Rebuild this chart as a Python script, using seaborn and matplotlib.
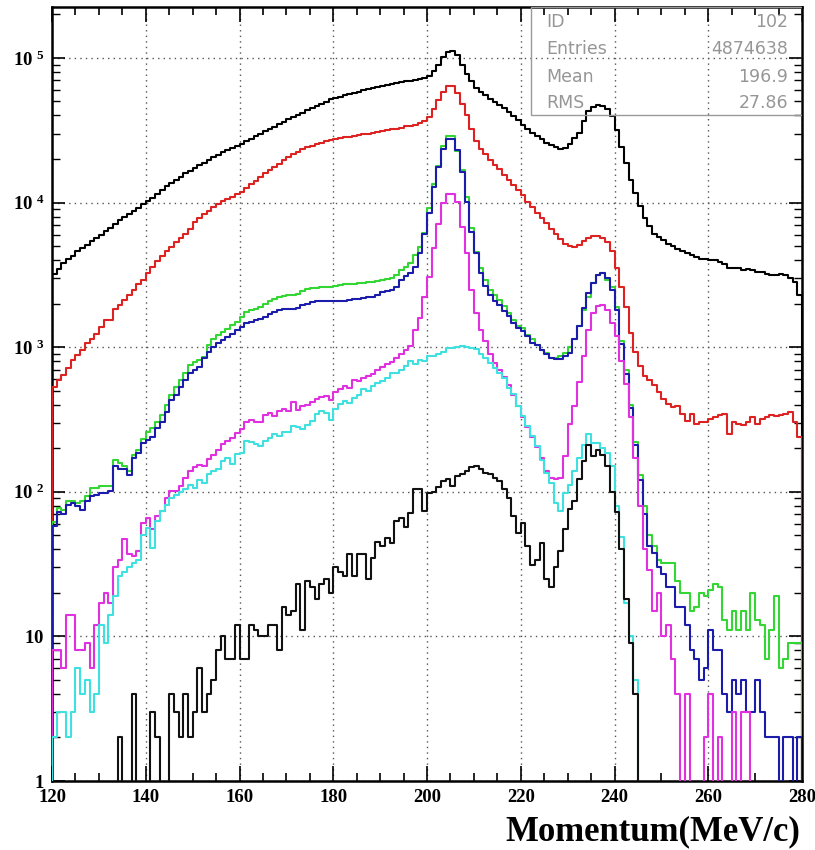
import numpy as np
import matplotlib
matplotlib.use("Agg")
import matplotlib.pyplot as plt
from matplotlib.patches import Rectangle
from matplotlib.ticker import FixedLocator, MultipleLocator, LogLocator, NullFormatter
import seaborn as sns

# ---------------- data (1 MeV/c bins from 120 to 280) ----------------
momentum_low = 120
momentum_high = 280
bin_width = 1

total_black = [
    3200, 3450, 3800, 4100, 4300, 4600, 4850, 5100, 5400, 5700,
    6000, 6350, 6700, 7100, 7600, 7900, 8300, 8800, 9200, 9700,
    10200, 10800, 11500, 12200, 13000, 13700, 14400, 15100, 15900, 16600,
    17400, 18100, 18900, 19700, 20500, 21400, 22200, 23000, 23800, 24600,
    25400, 26450, 27540, 28660, 29820, 31000, 32230, 33500, 34800, 36150,
    37530, 38950, 40400, 41900, 43420, 44990, 46600, 48250, 49930, 51640,
    53000, 54100, 55200, 56300, 57400, 58500, 59600, 60650, 61700, 62800,
    63800, 64900, 65900, 66900, 67900, 68900, 69800, 70800, 71800, 72800,
    75500, 81000, 90000, 101000, 110000, 112000, 104000, 90000, 78000, 69000,
    62000, 58000, 55000, 52000, 49500, 47500, 45000, 42000, 39500, 37000,
    34500, 32500, 30500, 29000, 27500, 26000, 25000, 24200, 23600, 24000,
    25400, 28000, 30500, 36500, 43000, 45700, 47000, 46600, 44000, 39800,
    31500, 24300, 18700, 14400, 11600, 9500, 7800, 6900, 6100, 5800,
    5500, 5150, 5000, 4800, 4650, 4500, 4350, 4200, 4100, 4100,
    4000, 4000, 3900, 3780, 3550, 3550, 3500, 3400, 3450, 3400,
    3300, 3300, 3200, 3150, 3130, 3200, 3130, 3030, 2800, 2300,
]

red_series = [
    532, 590, 640, 713, 813, 880, 955, 1060, 1145, 1240,
    1380, 1535, 1535, 1850, 1950, 2110, 2280, 2470, 2750, 2900,
    3250, 3600, 3950, 4250, 4600, 4950, 5300, 5650, 6050, 6600,
    7300, 7850, 8300, 8800, 9300, 9800, 10200, 10600, 11000, 11400,
    11800, 12600, 13400, 14200, 15000, 15900, 16800, 17700, 18600, 19600,
    20600, 21600, 22500, 23300, 24100, 24800, 25400, 26000, 26600, 27100,
    27600, 27900, 28200, 28500, 28900, 29200, 29600, 30000, 30500, 30800,
    31200, 31600, 32000, 32400, 33000, 33600, 34000, 34600, 35300, 36500,
    39000, 44000, 51000, 58000, 64000, 64000, 57000, 48000, 40000, 32000,
    26500, 23500, 21500, 19800, 18300, 17000, 15600, 14300, 13200, 12300,
    11200, 10100, 9300, 8500, 7800, 7200, 6600, 6100, 5600, 5200,
    5000, 4950, 5100, 5400, 5700, 5900, 5900, 5700, 5300, 4600,
    3500, 2600, 1900, 1250, 920, 740, 630, 590, 545, 490,
    440, 405, 385, 393, 347, 311, 347, 295, 302, 302,
    320, 330, 338, 347, 250, 302, 295, 288, 302, 329,
    295, 320, 329, 338, 335, 340, 347, 356, 302, 240,
]

green_series = [
    62, 77, 75, 86, 86, 84, 86, 93, 106, 106,
    109, 109, 109, 167, 158, 150, 140, 181, 196, 230,
    261, 275, 305, 340, 398, 467, 532, 590, 660, 752,
    790, 814, 857, 1030, 1144, 1210, 1274, 1345, 1420, 1496,
    1617, 1750, 1800, 1850, 1900, 2000, 2100, 2150, 2220, 2250,
    2280, 2310, 2340, 2430, 2520, 2560, 2580, 2600, 2600, 2620,
    2650, 2700, 2720, 2750, 2750, 2760, 2780, 2800, 2820, 2850,
    2900, 2950, 3000, 3150, 3400, 3600, 3810, 4340, 4960, 6120,
    9100, 13500, 18000, 24700, 29000, 29000, 22900, 16700, 10900, 6620,
    4570, 3500, 2930, 2500, 2300, 2130, 1915, 1720, 1550, 1400,
    1360, 1220, 1130, 1040, 960, 915, 845, 845, 870, 915,
    1000, 1130, 1400, 1820, 2240, 2770, 3160, 3240, 2900, 2600,
    1900, 1100, 700, 400, 220, 130, 80, 50, 42, 34,
    32, 32, 32, 24, 20, 20, 15, 16, 20, 19,
    21, 23, 22, 13, 11, 15, 11, 15, 11, 20,
    13, 12, 7, 11, 19, 6, 7, 9, 9, 9,
]

blue_series = [
    58, 73, 70, 81, 84, 80, 75, 86, 93, 95,
    98, 98, 101, 150, 143, 143, 130, 172, 186, 219,
    228, 240, 275, 305, 358, 431, 467, 532, 590, 660,
    700, 730, 835, 930, 1000, 1060, 1120, 1180, 1240, 1310,
    1380, 1460, 1500, 1530, 1570, 1610, 1700, 1750, 1800, 1830,
    1850, 1850, 1860, 1950, 2000, 2050, 2070, 2100, 2100, 2100,
    2100, 2100, 2100, 2120, 2140, 2160, 2180, 2220, 2220, 2300,
    2400, 2450, 2500, 2600, 2930, 3100, 3240, 3610, 4460, 6100,
    8400, 12800, 17600, 23500, 27600, 27600, 23000, 16300, 10100, 6280,
    4460, 3240, 2630, 2300, 2100, 1970, 1770, 1630, 1470, 1360,
    1290, 1190, 1070, 1040, 960, 890, 845, 822, 830, 870,
    915, 1130, 1400, 1860, 2370, 2770, 3160, 3240, 3000, 2500,
    1820, 1050, 650, 380, 210, 120, 70, 42, 38, 30,
    27, 22, 22, 16, 16, 12, 8, 7, 5, 6,
    11, 8, 8, 4, 3, 5, 4, 5, 3, 3,
    5, 3, 2, 2, 2, 0, 2, 2, 0, 2,
]

magenta_series = [
    8, 8, 6, 14, 14, 8, 8, 9, 6, 12,
    17, 20, 17, 30, 34, 47, 37, 36, 39, 61,
    66, 55, 68, 74, 91, 102, 102, 110, 125, 140,
    148, 152, 150, 168, 180, 195, 214, 223, 235, 254,
    272, 305, 315, 302, 305, 337, 351, 332, 364, 375,
    360, 417, 370, 390, 400, 418, 435, 450, 458, 430,
    488, 515, 535, 520, 595, 580, 610, 628, 655, 690,
    725, 765, 790, 840, 890, 950, 1020, 1320, 1600, 2240,
    3080, 4830, 7160, 9850, 11500, 11500, 10100, 6800, 4460, 2490,
    1720, 1320, 1100, 900, 780, 690, 620, 545, 470, 390,
    330, 282, 240, 205, 172, 140, 125, 122, 125, 176,
    292, 393, 570, 867, 1320, 1720, 1915, 1970, 1820, 1470,
    1190, 800, 560, 330, 170, 80, 40, 29, 15, 20,
    10, 12, 7, 4, 0, 4, 0, 0, 0, 2,
    4, 0, 2, 0, 0, 3, 0, 3, 3, 0,
    0, 0, 0, 0, 0, 0, 0, 0, 0, 0,
]

cyan_series = [
    2, 3, 3, 2, 3, 6, 4, 5, 3, 4,
    12, 9, 14, 19, 26, 28, 30, 32, 34, 50,
    56, 41, 63, 74, 81, 90, 95, 100, 104, 112,
    106, 121, 115, 132, 139, 143, 163, 171, 155, 182,
    185, 225, 220, 215, 207, 224, 236, 250, 243, 257,
    257, 285, 280, 270, 290, 308, 343, 362, 352, 316,
    371, 403, 424, 414, 446, 470, 510, 498, 538, 568,
    584, 614, 667, 667, 700, 740, 805, 765, 820, 800,
    866, 870, 890, 930, 990, 990, 1010, 1015, 1000, 980,
    965, 890, 844, 780, 720, 663, 615, 524, 471, 390,
    333, 284, 243, 207, 167, 135, 115, 84, 74, 98,
    112, 139, 172, 212, 249, 218, 218, 200, 186, 150,
    80, 49, 17, 10, 5, 0, 0, 0, 0, 0,
    0, 0, 0, 0, 0, 0, 0, 0, 0, 0,
    0, 0, 0, 0, 0, 0, 0, 0, 0, 0,
    0, 0, 0, 0, 0, 0, 0, 0, 0, 0,
]

signal_black = [
    0, 0, 0, 0, 0, 0, 0, 0, 0, 0,
    0, 0, 0, 0, 2, 0, 0, 4, 0, 0,
    0, 3, 2, 0, 0, 4, 3, 2, 4, 2,
    3, 6, 3, 4, 5, 8, 10, 7, 7, 12,
    7, 7, 12, 11, 10, 10, 12, 12, 8, 16,
    14, 15, 23, 11, 24, 22, 18, 23, 25, 20,
    30, 28, 26, 37, 26, 37, 37, 25, 35, 45,
    42, 48, 44, 63, 66, 57, 71, 105, 105, 74,
    98, 100, 108, 118, 122, 110, 128, 132, 139, 149,
    150, 143, 135, 132, 125, 118, 104, 91, 68, 52,
    61, 42, 31, 34, 44, 25, 22, 30, 39, 55,
    76, 86, 122, 163, 212, 176, 196, 181, 150, 100,
    73, 40, 18, 9, 4, 0, 0, 0, 0, 0,
    0, 0, 0, 0, 0, 0, 0, 0, 0, 0,
    0, 0, 0, 0, 0, 0, 0, 0, 0, 0,
    0, 0, 0, 0, 0, 0, 0, 0, 0, 0,
]

series_values = [total_black, red_series, green_series, blue_series,
                 magenta_series, cyan_series, signal_black]
series_colors = ["#000000", "#dd2222", "#33d633", "#1c1caa",
                 "#e030e0", "#3ee0e0", "#111111"]

x_ticks = [120, 140, 160, 180, 200, 220, 240, 260, 280]
x_tick_labels = ["120", "140", "160", "180", "200", "220", "240", "260", "280"]
y_ticks = [1, 10, 100, 1000, 10000, 100000]
y_tick_labels = [r"$1\;\;\,$", r"$10\;\;$", r"$10^{\;\,2}$", r"$10^{\;\,3}$",
                 r"$10^{\;\,4}$", r"$10^{\;\,5}$"]
x_label = "Momentum(MeV/c)"

stats_names = ["ID", "Entries", "Mean", "RMS"]
stats_numbers = ["102", "4874638", "196.9", "27.86"]

# ---------------- style ----------------
sns.set_theme(style="white")
plt.rcParams["font.family"] = ["Liberation Serif", "DejaVu Serif"]
plt.rcParams["mathtext.fontset"] = "custom"
plt.rcParams["mathtext.rm"] = "Liberation Serif:bold"
plt.rcParams["mathtext.bf"] = "Liberation Serif:bold"
plt.rcParams["mathtext.it"] = "Liberation Serif:bold:italic"

fig = plt.figure(figsize=(8.15, 8.5), dpi=100)
ax = fig.add_axes([52 / 815, 69 / 850, 750 / 815, 774 / 850])

edges = np.arange(momentum_low, momentum_high + bin_width, bin_width)
floor_val = 1e-2  # empty bins drawn below the visible range (like ROOT)

for vals, color in zip(series_values, series_colors):
    v = np.asarray(vals, dtype=float)
    assert len(v) == len(edges) - 1, len(v)
    vp = np.where(v > 0, v, floor_val)
    xs = np.concatenate([[edges[0]], edges[:-1], [edges[-1], edges[-1]]])
    ys = np.concatenate([[floor_val], vp, [vp[-1], floor_val]])
    sns.lineplot(x=xs, y=ys, ax=ax, color=color, linewidth=1.5,
                 drawstyle="steps-post", estimator=None, sort=False,
                 legend=False, zorder=3)

ax.set_yscale("log")
ax.set_xlim(momentum_low, momentum_high)
ax.set_ylim(1, 2.25e5)

ax.set_xticks(x_ticks, labels=x_tick_labels)
ax.xaxis.set_minor_locator(MultipleLocator(5))
ax.set_yticks(y_ticks, labels=y_tick_labels)
ax.yaxis.set_minor_locator(LogLocator(base=10, subs=np.arange(2, 10)))
ax.yaxis.set_minor_formatter(NullFormatter())

ax.tick_params(axis="both", which="both", direction="in", top=True, right=True,
               bottom=True, left=True, color="black")
ax.tick_params(axis="x", which="major", length=10.5, width=1.2, pad=6, labelsize=13.5)
ax.tick_params(axis="x", which="minor", length=5.5, width=1.2)
ax.tick_params(axis="y", which="major", length=9.5, width=1.2, pad=5.5, labelsize=13.5)
ax.tick_params(axis="y", which="minor", length=5.5, width=1.0)
for lab in ax.get_xticklabels() + ax.get_yticklabels():
    lab.set_fontweight("bold")
    lab.set_family("Liberation Serif")
    lab.set_color("black")

ax.grid(True, which="major", axis="both", color="#555555",
        linestyle=(0, (1, 3)), linewidth=1.0, zorder=1)
ax.set_axisbelow(True)

for s in ax.spines.values():
    s.set_color("black")
    s.set_linewidth(1.8)

ax.set_xlabel(x_label, fontsize=25, fontweight="bold", family="Liberation Serif",
              ha="right", va="center", color="black")
ax.xaxis.set_label_coords(0.997, -0.066)
ax.set_ylabel("")

# statistics box
bx0, by0 = (531 - 52) / 750, (781 - 115) / 774
ax.add_patch(Rectangle((bx0, by0), 1 - bx0, 1 - by0, transform=ax.transAxes,
                       fill=False, edgecolor="#9a9a9a", linewidth=1.0, zorder=5))
row_y = [0.981, 0.9457, 0.910, 0.876]
for name, val, y in zip(stats_names, stats_numbers, row_y):
    ax.text((546 - 52) / 750, y, name, transform=ax.transAxes, ha="left", va="center",
            fontsize=12.5, color="#969696", family="DejaVu Sans", zorder=6)
    ax.text((788 - 52) / 750, y, val, transform=ax.transAxes, ha="right", va="center",
            fontsize=12.5, color="#969696", family="DejaVu Sans", zorder=6)

fig.savefig("out.png", dpi=100)
